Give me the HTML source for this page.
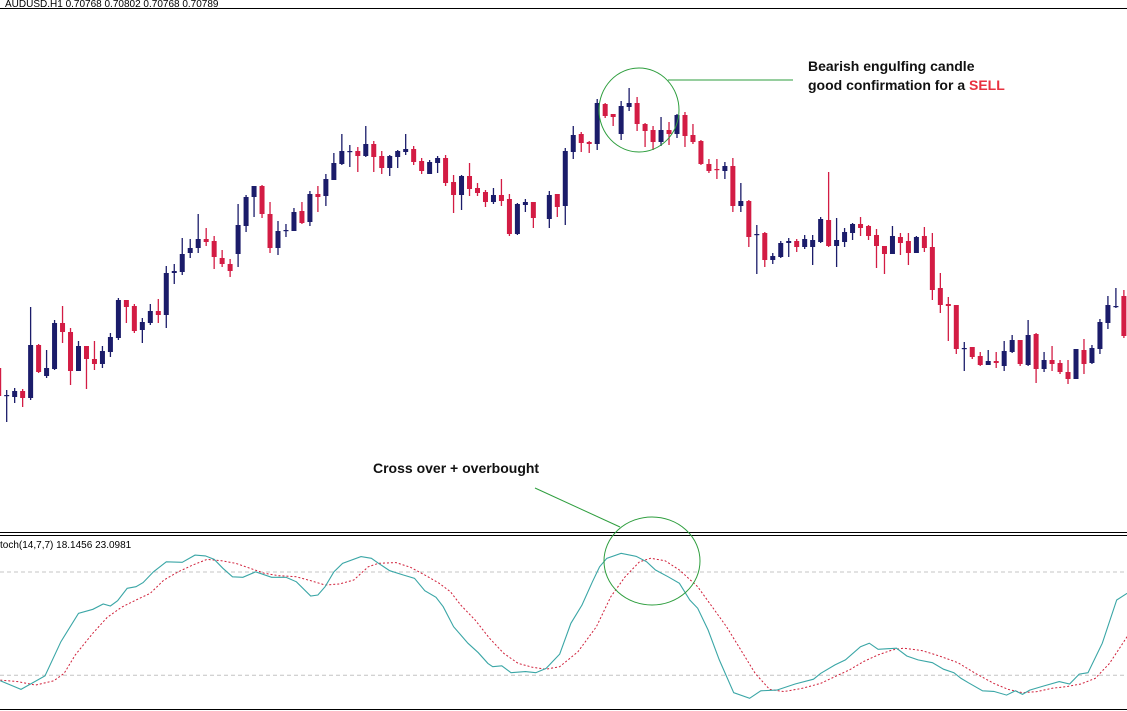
<!DOCTYPE html>
<html><head><meta charset="utf-8"><style>
html,body{margin:0;padding:0;background:#fff;}
svg{display:block;font-family:"Liberation Sans",sans-serif;}
</style></head><body>
<svg id="chart" width="1127" height="711" viewBox="0 0 1127 711">
<rect x="0" y="0" width="1127" height="711" fill="#fff"/>
<text x="5" y="7" font-size="10" fill="#000">AUDUSD.H1  0.70768 0.70802 0.70768 0.70789</text>
<line x1="0" y1="8.5" x2="1127" y2="8.5" stroke="#000" stroke-width="1"/>
<g id="candles"></g>
<line x1="0" y1="532.5" x2="1127" y2="532.5" stroke="#000"/>
<line x1="0" y1="535.5" x2="1127" y2="535.5" stroke="#000"/>
<line x1="0" y1="709.5" x2="1127" y2="709.5" stroke="#000"/>
<text x="0" y="548" font-size="10" fill="#000">toch(14,7,7) 18.1456 23.0981</text>
<g id="levels"></g>
<g id="stoch"></g>
<ellipse cx="639" cy="110" rx="40" ry="42" fill="none" stroke="#2e9e3e" stroke-width="1"/>
<line x1="668" y1="80" x2="793" y2="80" stroke="#2e9e3e"/>
<text x="808" y="71" font-size="14" font-weight="bold" fill="#111">Bearish engulfing candle</text>
<text x="808" y="90" font-size="14" font-weight="bold" fill="#111">good confirmation for a <tspan fill="#e8313f">SELL</tspan></text>
<ellipse cx="652" cy="561" rx="48" ry="44" fill="none" stroke="#2e9e3e"/>
<line x1="535" y1="488" x2="620" y2="527" stroke="#2e9e3e"/>
<text x="373" y="473" font-size="14" font-weight="bold" fill="#111">Cross over + overbought</text>
</svg>
<script>
const openP  = [62,34,33,39,32,85,54,61,107,98,59,84,71,66,78,92,130,124,100,107,119,115,157,158,177,182,191,189,172,166,176,204,233,244,216,182,199,199,219,208,236,234,250,266,278,279,274,286,274,262,273,278,281,269,256,267,272,248,235,254,242,238,228,235,231,196,225,228,null,211,236,224,278,296,288,286,326,316,296,323,327,306,300,288,300,296,315,295,289,266,261,259,264,224,229,195,197,170,173,187,189,183,183,188,210,184,188,197,206,204,195,184,176,193,189,177,194,183,142,126,125,81,83,74,65,69,64,78,90,65,96,61,70,67,58,51,80,67,81,107,124,134];
const highP  = [65,40,42,41,123,86,80,110,124,102,89,84,89,84,97,132,130,126,112,126,131,164,166,192,191,216,202,194,180,171,226,235,244,245,228,209,206,222,228,239,244,256,277,296,285,283,304,289,279,275,280,296,284,272,270,274,275,255,255,267,247,240,242,251,236,227,231,228,null,239,236,282,304,298,289,331,327,316,329,342,333,307,304,313,308,316,318,306,290,271,271,268,272,247,230,205,198,177,189,192,191,195,195,213,258,212,202,207,213,205,201,184,204,197,197,194,203,197,157,133,125,88,83,78,80,78,89,95,90,110,97,78,84,70,70,81,91,85,111,134,142,140];
const lowP   = [30,8,27,23,30,57,52,60,87,45,59,41,60,62,73,90,107,97,87,105,107,102,146,155,172,177,184,161,163,153,163,198,213,212,177,175,193,199,206,204,218,224,250,265,263,258,273,258,256,254,262,275,265,256,256,257,244,217,220,234,234,223,226,224,194,195,218,202,null,202,213,205,271,278,277,280,312,304,290,319,299,283,280,284,285,292,283,286,265,257,251,251,218,218,183,156,163,166,172,173,178,181,165,187,183,163,183,190,194,190,162,156,176,175,165,177,178,130,117,89,76,59,71,64,65,62,59,77,64,64,47,58,59,56,46,51,56,66,76,101,122,92];
const closeP = [34,35,39,32,85,58,62,107,98,59,84,71,66,79,93,130,123,99,108,119,115,157,159,176,182,191,188,173,166,159,205,233,244,216,182,199,200,218,207,236,233,251,267,279,279,274,286,273,262,274,279,281,268,259,268,272,247,235,254,241,237,228,235,229,196,226,228,212,null,235,223,279,295,287,286,327,314,313,324,327,306,299,288,300,296,315,294,288,266,259,260,264,224,229,193,196,170,174,187,189,183,191,190,211,184,190,198,206,202,194,184,176,194,187,177,193,182,140,125,124,81,82,73,65,69,67,79,90,66,95,61,70,66,58,51,81,66,82,108,125,124,94];

const kBar = [0.2,2.8,5.8,7.8,10,11.8,13.1,14,14.9,16.1,17.2,18.1,19.4,21,23,24.6,25.9,27,28.1,29.3,30.6,32.2,34.2,36,37.3,39.1,40,40.9,42,43.1,45.4,46.7,47.6,49,50.7,52.1,53.4,54.8,55.7,57,58.8,60.1,61.3,61.9,63.05,64.2,66,67.3,68.6,70.3,71.7,73.1,74.4,75.3,76.2,78,79.9,81.2,82.3,83.9,85.3,86.6,87.6,88.9,90.3,92.1,94.1,95.5,97.5,99.8,102.1,103,104.8,106.1,108,109.1,110.2,112.5,113.8,115.2,117,118.4,119.7,120.6,121.5,123.3,124.7,126.3,127.4,128.3,129.2,131,132.9,134.2,135.4,136.5,138.3,140.1,141.4];
const kVal = [16.8,11.8,19.7,39.5,56,58.3,61.4,60.2,63.3,70.5,71.4,73.8,80.1,85.9,85.6,89.8,89.3,87.3,82.1,77.2,76.9,80.1,76.9,76.9,74.3,66,66.6,71.4,80.1,85,88.9,87.9,85,80.7,78.2,76.3,69.1,65.3,59.8,48.2,38.6,33.1,26.9,25,25.5,21.5,22.1,21.5,24,32.3,50.2,60.8,74.3,83,87.9,90.8,89,85.9,81.1,77.2,73.4,63.7,58.9,46.3,28.9,9.9,6.6,11,11.4,14.9,17.7,21.1,26,28.9,36.6,38.6,35.1,35.7,31.2,28.9,27.3,23.5,21.5,18.2,15.7,11,10.6,8.5,11,8.9,11.4,13.8,16.3,14.9,20.7,21.5,38.6,63.7,67.6];
const dBar = [0.2,2.4,4.6,6.9,8.2,9.6,11.8,13.6,15.4,17.2,19,20.7,22.5,24.3,26.1,27.9,29.7,31.5,33.3,35.1,37.3,39.1,40.9,42.7,44.5,46.3,47.6,49.8,51.6,53.4,55.2,56.6,57.9,59.7,61.5,63.3,65.1,66.9,68.6,70.3,72.6,74.9,76.7,78.5,80.3,81.7,83.5,85.3,87.6,89.4,91.2,93,94.8,96.6,98.4,100.7,103,104.8,106.6,108.4,110.2,112,113.4,115.7,117.9,120.2,122.4,124.7,126.5,128.3,130.1,132,133.8,135.6,137.4,139.2,141.4];
const dVal = [17.2,16.3,14.3,16.8,21.1,31.8,44.4,53.6,59.5,63.7,67.6,75.3,80.1,84,87.3,86.5,85,82.1,79.2,77.8,77.2,74.9,72.4,73,75.3,83,85,85.4,82.7,78.2,73.4,68.5,60.8,52.1,41.5,32.7,26.9,24.6,23.5,25,33.7,48.2,65.6,77.2,85.9,87.9,86.5,81.1,71.4,59.8,48.2,34.7,21.1,11.8,10.5,12.4,15.3,19.2,23.1,28,31.8,34.7,35.7,34.3,31.2,27.3,21.1,15.3,11.8,9.9,10.5,12.4,13.4,14.9,18.2,26.9,42.4];
const levelVals = [80,20];

const NS='http://www.w3.org/2000/svg';
function xOf(i){return -1.3+7.98*i;}
function yP(v){return 430-v;}
function yS(v){return 709.7-v*1.722;}
function mk(tag,attrs){const e=document.createElementNS(NS,tag);for(const k in attrs)e.setAttribute(k,attrs[k]);return e;}

const cg=document.getElementById('candles');
for(let i=0;i<openP.length;i++){
  if(openP[i]===null)continue;
  const o=openP[i],h=highP[i],l=lowP[i],c=closeP[i];
  const bull=c>=o;
  const col=bull?'#1b1c6a':'#d31c44';
  const x=xOf(i);
  const g=mk('g',{});
  
  
  const w=mk('line',{x1:x,x2:x,y1:yP(h),y2:yP(l),stroke:col,'stroke-width':1.3});
  
  
  g.appendChild(w);
  const top=yP(Math.max(o,c)),bh=Math.max(1.2,Math.abs(o-c));
  const b=mk('rect',{x:x-2.5,y:top,width:5,height:bh,fill:col});
  
  
  g.appendChild(b);
  cg.appendChild(g);
}
const lg=document.getElementById('levels');
levelVals.forEach(v=>{
  const l=mk('line',{x1:0,x2:1127,y1:yS(v),y2:yS(v),stroke:'#c4c4c4','stroke-dasharray':'4,3'});
  
  
  lg.appendChild(l);
});
const sg=document.getElementById('stoch');
function pts(bars,vals){return bars.map((b,i)=>xOf(b).toFixed(1)+','+yS(vals[i]).toFixed(1)).join(' ');}
const dl=mk('polyline',{points:pts(dBar,dVal),fill:'none',stroke:'#d0203a','stroke-width':1,'stroke-dasharray':'2,2'});


sg.appendChild(dl);
const kl=mk('polyline',{points:pts(kBar,kVal),fill:'none',stroke:'#3aa6a6','stroke-width':1.1});


sg.appendChild(kl);
</script>
</body></html>
